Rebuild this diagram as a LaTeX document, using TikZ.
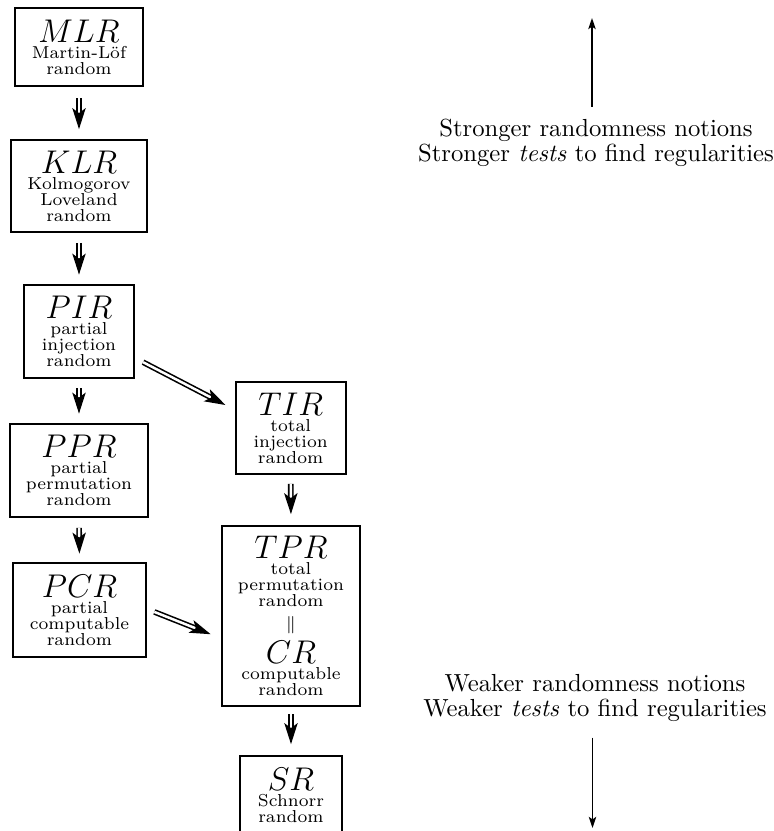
\documentclass[tikz,border=0pt]{standalone}
\usepackage{graphicx}
\usetikzlibrary{arrows.meta,calc}
\newcommand\pxs{0.405pt}
\newcommand\BL[1]{{\fontsize{12}{12}\selectfont\scalebox{1.108}{$#1$}}}
\newcommand\tightlines{\lineskiplimit-100pt\relax}
\newcommand\dblarrow[4]{%
  \coordinate (da) at ($(#1)!#3!(#2)$);
  \coordinate (db) at ($(#2)!#4!(#1)$);
  \draw[shaft] (da) -- ($(db)!5.2pt!(da)$);
  \draw[headtip] ($(db)!6pt!(da)$) -- (db);
}
\tikzset{
  box/.style={draw, line width=0.8pt, align=center, inner sep=0pt,
    font=\fontsize{7}{6.5}\selectfont\tightlines},
  sz/.style 2 args={minimum width=#1*\pxs, minimum height=#2*\pxs},
  shaft/.style={draw, double, double distance=1pt, line width=0.65pt},
  headtip/.style={draw, line width=0.65pt, -{Stealth[length=8.5pt,width=5.4pt,inset=2pt]}},
  sidetext/.style={align=center, inner sep=0pt, font=\fontsize{10}{10.1}\selectfont},
  sidearrow/.style={draw, line width=0.6pt, -{Stealth[length=4.5pt,width=3pt,inset=1pt]}}
}
\begin{document}
\begin{tikzpicture}[x=0.405pt, y=-0.405pt]
\useasboundingbox (0,0) rectangle (774,831);

\node[box, sz={128}{78}] (MLR) at (79,47) {\BL{MLR}\\ Martin-Löf\\ random};
\node[box, sz={136}{92}] (KLR) at (79,186) {\BL{KLR}\\ Kolmogorov\\ Loveland\\ random};
\node[box, sz={110}{93}] (PIR) at (79,331.5) {\BL{PIR}\\ partial\\ injection\\ random};
\node[box, sz={138}{93}] (PPR) at (79,470.5) {\BL{PPR}\\ partial\\ permutation\\ random};
\node[box, sz={133}{94}] (PCR) at (79.5,610) {\BL{PCR}\\ partial\\ computable\\ random};
\node[box, sz={110}{92}] (TIR) at (290.7,428) {\BL{TIR}\\ total\\ injection\\ random};
\node[box, sz={138}{180}] (TPR) at (291,616) {\BL{TPR}\\ total\\ permutation\\ random\\[2.6pt] {\fontsize{7.5}{7.5}\selectfont$\|$}\\[7.5pt] \BL{CR}\\ computable\\ random};
\node[box, sz={102}{78}] (SR) at (291,795) {\BL{SR}\\ Schnorr\\ random};

\dblarrow{MLR.south}{KLR.north}{4.5pt}{4pt}
\dblarrow{KLR.south}{PIR.north}{4pt}{3.8pt}
\dblarrow{PIR.south}{PPR.north}{3.8pt}{3.8pt}
\dblarrow{PPR.south}{PCR.north}{4pt}{3.4pt}
\dblarrow{TIR.south}{TPR.north}{3.6pt}{4.4pt}
\dblarrow{TPR.south}{SR.north}{3pt}{4.4pt}

\coordinate (pirout) at ($(PIR.east)+(0,26.5)$);
\coordinate (tirin) at ($(TIR.west)+(0,-18.2)$);
\dblarrow{pirout}{tirin}{3.7pt}{4.2pt}
\coordinate (pcrout) at ($(PCR.east)+(0,-1)$);
\coordinate (tprin) at ($(TPR.west)+(0,22.3)$);
\dblarrow{pcrout}{tprin}{3.2pt}{4.5pt}

\node[sidetext, anchor=north] (strong) at (596,119) {Stronger randomness notions\\Stronger \emph{tests} to find regularities};
\node[sidetext, anchor=north] (weak) at (595,674) {Weaker randomness notions\\Weaker \emph{tests} to find regularities};
\coordinate (upTop) at (592,18);
\coordinate (downBot) at (592.5,828);
\draw[sidearrow, shorten <=5pt] (strong.north -| upTop) -- (upTop);
\draw[sidearrow, shorten <=6.3pt] (weak.south -| downBot) -- (downBot);
\end{tikzpicture}
\end{document}
